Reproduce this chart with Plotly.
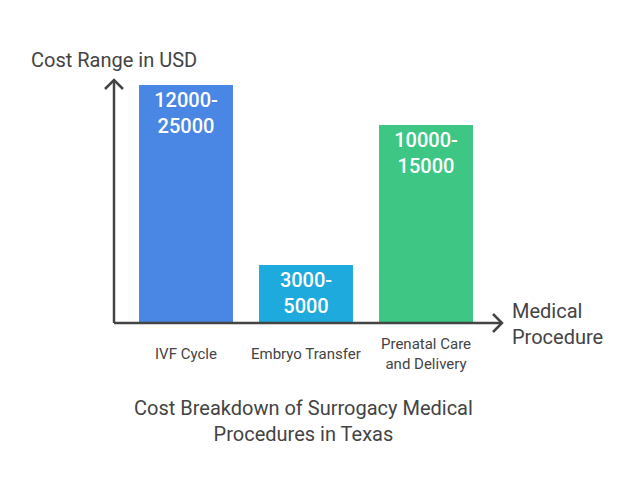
import plotly.graph_objects as go

# Daten (Balkenhöhen grob aus dem Bild geschätzt, Beschriftung als Text)
kategorien = ["IVF Cycle", "Embryo Transfer", "Prenatal Care<br>and Delivery"]
hoehen = [238, 58, 198]
spannen = ["12000-<br>25000", "3000-<br>5000", "10000-<br>15000"]
farben = ["#4a86e4", "#1eaadc", "#3ec685"]

W, H = 630, 492
OFF = 8  # Seitenrand des Browsers
L, T = 114 - OFF, 80 - OFF
R, B = W - (502 - OFF), H - (323 - OFF)
pw, ph = W - L - R, H - T - B
grau = "#444444"
schrift = "Roboto, sans-serif"


def px(x):
    return (x - OFF - L) / pw


def py(y):
    return (H - B - (y - OFF)) / ph


fig = go.Figure(go.Bar(
    x=list(range(len(kategorien))),
    y=hoehen,
    text=spannen,
    marker=dict(color=farben, line=dict(width=0)),
    textposition="inside",
    insidetextanchor="end",
    textangle=0,
    textfont=dict(color="white", size=20, family=schrift, weight=500),
    width=0.783,
    hoverinfo="skip",
))

# Kategorie-Beschriftungen unter der Achse
for i, k in enumerate(kategorien):
    fig.add_annotation(x=i, y=py(354), xref="x", yref="paper",
                       text=k, showarrow=False, yanchor="middle",
                       font=dict(size=15, color=grau, family=schrift))

# Achsenlinien mit offenen Pfeilspitzen
dx, dy = 9 / pw, 9 / ph
linie = dict(color=grau, width=2.5)
fig.add_shape(type="line", xref="paper", yref="paper", x0=0, y0=0, x1=0, y1=1, line=linie)
fig.add_shape(type="line", xref="paper", yref="paper", x0=0, y0=0, x1=1, y1=0, line=linie)
fig.add_shape(type="path", xref="paper", yref="paper",
              path=f"M {-dx},{1 - dy} L 0,1 L {dx},{1 - dy}", line=linie)
fig.add_shape(type="path", xref="paper", yref="paper",
              path=f"M {1 - dx},{dy} L 1,0 L {1 - dx},{-dy}", line=linie)

fig.add_annotation(x=px(29), y=py(60), xref="paper", yref="paper",
                   text="Cost Range in USD", showarrow=False, xanchor="left", yanchor="middle",
                   font=dict(size=20, color=grau, family=schrift))
fig.add_annotation(x=px(510), y=py(324), xref="paper", yref="paper",
                   text="Medical<br>Procedure", showarrow=False, xanchor="left", yanchor="middle",
                   align="left", font=dict(size=20, color=grau, family=schrift))
fig.add_annotation(x=px(303), y=py(421), xref="paper", yref="paper",
                   text="Cost Breakdown of Surrogacy Medical<br>Procedures in Texas",
                   showarrow=False, xanchor="center", yanchor="middle",
                   font=dict(size=20, color=grau, family=schrift))

fig.update_layout(
    width=W, height=H,
    margin=dict(l=L, r=R, t=T, b=B),
    plot_bgcolor="white", paper_bgcolor="white",
    showlegend=False,
    xaxis=dict(range=[-0.6, pw / 120 - 0.6], visible=False, fixedrange=True),
    yaxis=dict(range=[0, 243], visible=False, fixedrange=True),
)

fig.write_html("out.html")
